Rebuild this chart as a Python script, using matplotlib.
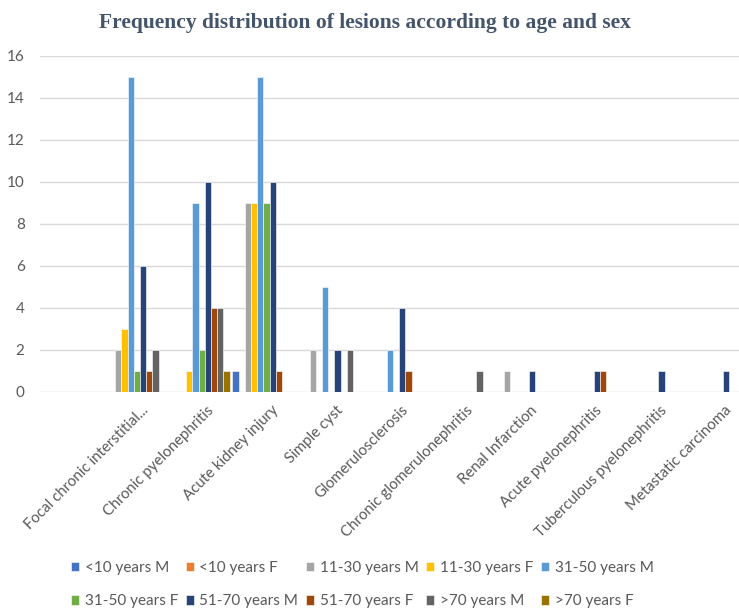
import numpy as np
import matplotlib
matplotlib.use("Agg")
import matplotlib.pyplot as plt

# chart data
lesions = ["Focal chronic interstitial...", "Chronic pyelonephritis", "Acute kidney injury",
           "Simple cyst", "Glomerulosclerosis", "Chronic glomerulonephritis",
           "Renal Infarction", "Acute pyelonephritis", "Tuberculous pyelonephritis",
           "Metastatic carcinoma"]
groups = ["<10 years M", "<10 years F", "11-30 years M", "11-30 years F", "31-50 years M",
          "31-50 years F", "51-70 years M", "51-70 years F", ">70 years M", ">70 years F"]

lt10_m = [0, 0, 1, 0, 0, 0, 0, 0, 0, 0]
lt10_f = [0, 0, 0, 0, 0, 0, 0, 0, 0, 0]
m11_30 = [2, 0, 9, 2, 0, 0, 1, 0, 0, 0]
f11_30 = [3, 1, 9, 0, 0, 0, 0, 0, 0, 0]
m31_50 = [15, 9, 15, 5, 2, 0, 0, 0, 0, 0]
f31_50 = [1, 2, 9, 0, 0, 0, 0, 0, 0, 0]
m51_70 = [6, 10, 10, 2, 4, 0, 1, 1, 1, 1]
f51_70 = [1, 4, 1, 0, 1, 0, 0, 1, 0, 0]
gt70_m = [2, 4, 0, 2, 0, 1, 0, 0, 0, 0]
gt70_f = [0, 1, 0, 0, 0, 0, 0, 0, 0, 0]

series = [lt10_m, lt10_f, m11_30, f11_30, m31_50, f31_50, m51_70, f51_70, gt70_m, gt70_f]
colors = ["#4472C4", "#ED7D31", "#A5A5A5", "#FFC000", "#5B9BD5",
          "#70AD47", "#264478", "#9E480E", "#636363", "#997300"]

plt.rcParams["font.family"] = ["Lato", "DejaVu Sans"]

fig = plt.figure(figsize=(7.39, 6.12), dpi=100)
ax = fig.add_axes([0.054, 0.3595, 0.946, 0.549])

x = np.arange(len(lesions))
w = 0.0957
for i, (vals, c, name) in enumerate(zip(series, colors, groups)):
    ax.bar(x + (i - 4.5) * w, vals, width=w, color=c, edgecolor="white",
           linewidth=0.4, label=name, zorder=3)

ax.set_ylim(0, 16)
ax.set_yticks(range(0, 17, 2))
ax.set_xlim(-1.45, 9.34)
ax.set_xticks(x + 0.12)
ax.set_xticklabels(lesions, rotation=45, ha="right", rotation_mode="anchor",
                   fontsize=10.8, color="#595959")
ax.tick_params(axis="x", length=0, pad=8)
ax.tick_params(axis="y", length=0, labelsize=11, labelcolor="#595959", pad=11)
ax.grid(axis="y", color="#D9D9D9", linewidth=1, zorder=0)
for s in ax.spines.values():
    s.set_visible(False)

fig.text(0.494, 0.962, "Frequency distribution of lesions according to age and sex",
         ha="center", va="center", fontsize=15.5, fontweight="bold",
         color="#44546A", family="Liberation Serif")

# legend is filled row by row in the reference
handles, labels = ax.get_legend_handles_labels()
order = [0, 5, 1, 6, 2, 7, 3, 8, 4, 9]
leg = fig.legend([handles[k] for k in order], [labels[k] for k in order],
                 loc="center", bbox_to_anchor=(0.49, 0.045), ncol=5, frameon=False,
                 fontsize=11, handlelength=0.55, handleheight=0.55, handletextpad=0.35,
                 columnspacing=0.5, labelspacing=1.3)
for t in leg.get_texts():
    t.set_color("#595959")

fig.savefig("out.png", dpi=100)
